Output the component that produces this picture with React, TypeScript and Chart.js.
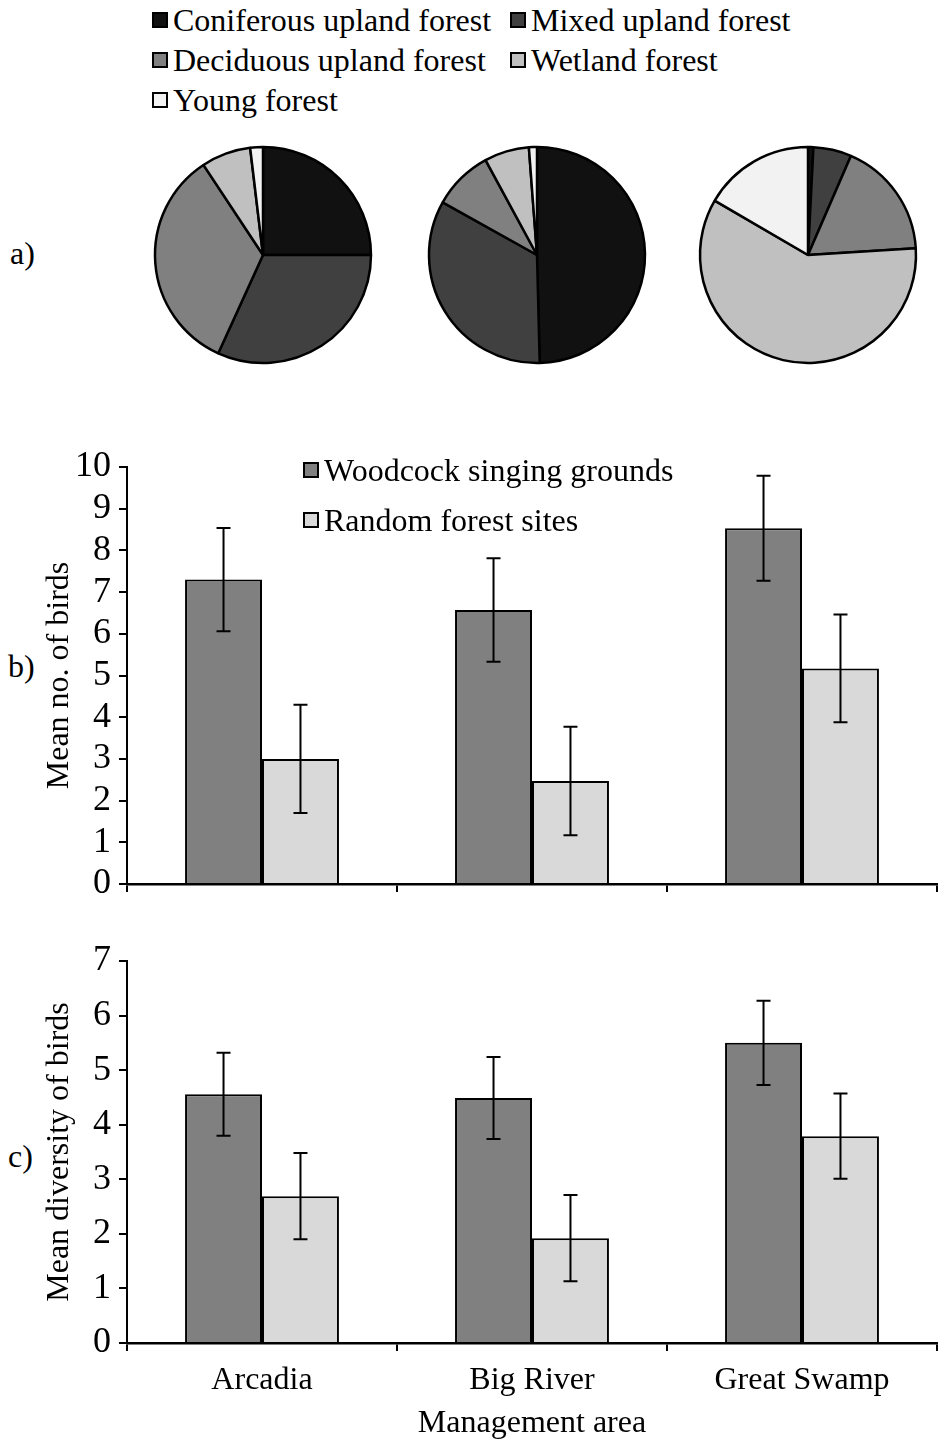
import React, { useEffect, useRef } from "react";
import { Chart, registerables } from "chart.js";

Chart.register(...registerables);

const FONT_FAMILY = "'Liberation Serif', 'Times New Roman', serif";

// Forest cover composition (percent) for each management area
const coverTypes = [
  "Coniferous upland forest",
  "Mixed upland forest",
  "Deciduous upland forest",
  "Wetland forest",
  "Young forest",
];
const coverColors = ["#111111", "#404040", "#808080", "#c0c0c0", "#f2f2f2"];
const arcadiaCover = [25.0, 31.8, 33.9, 7.4, 1.9];
const bigRiverCover = [49.6, 33.5, 9.0, 6.7, 1.2];
const greatSwampCover = [0.8, 5.7, 17.5, 59.4, 16.6];

// Bar panels
const areas = ["Arcadia", "Big River", "Great Swamp"];
const siteTypes = ["Woodcock singing grounds", "Random forest sites"];
const siteColors = ["#808080", "#d9d9d9"];

const woodcockBirds = [7.3, 6.57, 8.53];
const woodcockBirdsErr = [1.24, 1.24, 1.26];
const randomBirds = [3.0, 2.47, 5.17];
const randomBirdsErr = [1.3, 1.3, 1.29];

const woodcockDiversity = [4.56, 4.49, 5.5];
const woodcockDiversityErr = [0.76, 0.75, 0.77];
const randomDiversity = [2.69, 1.92, 3.79];
const randomDiversityErr = [0.79, 0.79, 0.78];

const birdsAxisMax = 10;
const diversityAxisMax = 7;

const font = { family: FONT_FAMILY, size: 32 };
const tickFont = { family: FONT_FAMILY, size: 36 };

// Draws symmetric error bars on top of every bar
const errorBarPlugin = {
  id: "errorBars",
  afterDatasetsDraw(chart: any) {
    const ctx = chart.ctx;
    const yScale = chart.scales.y;
    ctx.save();
    ctx.strokeStyle = "#000";
    ctx.lineWidth = 2;
    chart.data.datasets.forEach((ds: any, i: number) => {
      const meta = chart.getDatasetMeta(i);
      meta.data.forEach((bar: any, j: number) => {
        const v = ds.data[j];
        const e = ds.errors[j];
        const yTop = yScale.getPixelForValue(v + e);
        const yBot = yScale.getPixelForValue(v - e);
        const x = bar.x;
        ctx.beginPath();
        ctx.moveTo(x, yTop);
        ctx.lineTo(x, yBot);
        ctx.moveTo(x - 7, yTop);
        ctx.lineTo(x + 7, yTop);
        ctx.moveTo(x - 7, yBot);
        ctx.lineTo(x + 7, yBot);
        ctx.stroke();
      });
    });
    ctx.restore();
  },
};

function PieChart({ values, cx, cy }: { values: number[]; cx: number; cy: number }) {
  const ref = useRef<HTMLCanvasElement>(null);
  useEffect(() => {
    const chart = new Chart(ref.current as HTMLCanvasElement, {
      type: "pie",
      data: {
        labels: coverTypes,
        datasets: [
          {
            data: values,
            backgroundColor: coverColors,
            borderColor: "#000",
            borderWidth: 2.5,
            radius: 108,
          } as any,
        ],
      },
      options: {
        responsive: false,
        animation: false,
        devicePixelRatio: 1,
        plugins: { legend: { display: false }, tooltip: { enabled: false } },
      },
    });
    return () => chart.destroy();
  }, [values]);
  return (
    <canvas
      ref={ref}
      width={240}
      height={240}
      style={{ position: "absolute", left: cx - 120, top: cy - 120, width: 240, height: 240 }}
    />
  );
}

type BarPanelProps = {
  top: number;
  height: number;
  padTop: number;
  axisHeight: number;
  woodcock: number[];
  woodcockErr: number[];
  random: number[];
  randomErr: number[];
  yMax: number;
  yTitle: string;
  showAreas: boolean;
};

function BarPanel(p: BarPanelProps) {
  const ref = useRef<HTMLCanvasElement>(null);
  useEffect(() => {
    const chart = new Chart(ref.current as HTMLCanvasElement, {
      type: "bar",
      data: {
        labels: areas,
        datasets: [
          {
            label: siteTypes[0],
            data: p.woodcock,
            errors: p.woodcockErr,
            backgroundColor: siteColors[0],
            borderColor: "#000",
            borderWidth: 2,
            categoryPercentage: 0.57,
            barPercentage: 1,
          } as any,
          {
            label: siteTypes[1],
            data: p.random,
            errors: p.randomErr,
            backgroundColor: siteColors[1],
            borderColor: "#000",
            borderWidth: 2,
            categoryPercentage: 0.57,
            barPercentage: 1,
          } as any,
        ],
      },
      options: {
        responsive: false,
        animation: false,
        devicePixelRatio: 1,
        layout: { padding: { top: p.padTop, right: 1, left: 0, bottom: 0 } },
        plugins: { legend: { display: false }, tooltip: { enabled: false } },
        scales: {
          x: {
            grid: {
              offset: true,
              drawOnChartArea: false,
              color: "#000",
              lineWidth: 2,
              tickLength: 8,
            },
            border: { color: "#000", width: 2.5 },
            ticks: { display: p.showAreas, font, color: "#000", padding: 10, maxRotation: 0 },
            title: {
              display: p.showAreas,
              text: "Management area",
              font,
              color: "#000",
              padding: { top: 0, bottom: 4 },
            },
            afterFit: (s: any) => {
              s.height = p.axisHeight;
            },
          },
          y: {
            min: 0,
            max: p.yMax,
            ticks: { stepSize: 1, autoSkip: false, font: tickFont, color: "#000", padding: 8 },
            grid: { drawOnChartArea: false, color: "#000", lineWidth: 2, tickLength: 8 },
            border: { color: "#000", width: 2 },
            title: {
              display: true,
              text: p.yTitle,
              font,
              color: "#000",
              padding: { top: 10, bottom: 0 },
            },
            afterFit: (s: any) => {
              s.width = 97;
            },
          },
        },
      } as any,
      plugins: [errorBarPlugin],
    });
    return () => chart.destroy();
  }, []);
  return (
    <canvas
      ref={ref}
      width={908}
      height={p.height}
      style={{ position: "absolute", left: 30, top: p.top, width: 908, height: p.height }}
    />
  );
}

function LegendItem({
  left,
  top,
  color,
  text,
}: {
  left: number;
  top: number;
  color: string;
  text: string;
}) {
  return (
    <div
      style={{
        position: "absolute",
        left,
        top,
        height: 40,
        display: "flex",
        alignItems: "center",
        whiteSpace: "nowrap",
        fontSize: 32,
        lineHeight: "40px",
      }}
    >
      <span
        style={{
          display: "inline-block",
          boxSizing: "border-box",
          width: 16,
          height: 16,
          border: "2px solid #000",
          background: color,
          marginRight: 5,
        }}
      />
      <span>{text}</span>
    </div>
  );
}

function PanelLabel({ left, top, text }: { left: number; top: number; text: string }) {
  return (
    <div style={{ position: "absolute", left, top, fontSize: 32, lineHeight: "40px" }}>{text}</div>
  );
}

export default function App() {
  return (
    <div
      style={{
        position: "absolute",
        left: 0,
        top: 0,
        width: 938,
        height: 1447,
        background: "#fff",
        color: "#000",
        fontFamily: FONT_FAMILY,
        overflow: "hidden",
      }}
    >
      {/* a) forest cover legend */}
      <LegendItem left={152} top={0} color={coverColors[0]} text={coverTypes[0]} />
      <LegendItem left={510} top={0} color={coverColors[1]} text={coverTypes[1]} />
      <LegendItem left={152} top={40} color={coverColors[2]} text={coverTypes[2]} />
      <LegendItem left={510} top={40} color={coverColors[3]} text={coverTypes[3]} />
      <LegendItem left={152} top={80} color={coverColors[4]} text={coverTypes[4]} />

      <PanelLabel left={10} top={233} text="a)" />
      <PieChart values={arcadiaCover} cx={263} cy={255} />
      <PieChart values={bigRiverCover} cx={537} cy={255} />
      <PieChart values={greatSwampCover} cx={808} cy={255} />

      {/* b) mean number of birds */}
      <PanelLabel left={8} top={646} text="b)" />
      <BarPanel
        top={437}
        height={478}
        padTop={30}
        axisHeight={31}
        woodcock={woodcockBirds}
        woodcockErr={woodcockBirdsErr}
        random={randomBirds}
        randomErr={randomBirdsErr}
        yMax={birdsAxisMax}
        yTitle="Mean no. of birds"
        showAreas={false}
      />
      <LegendItem left={303} top={450} color={siteColors[0]} text={siteTypes[0]} />
      <LegendItem left={303} top={500} color={siteColors[1]} text={siteTypes[1]} />

      {/* c) mean diversity of birds */}
      <PanelLabel left={8} top={1136} text="c)" />
      <BarPanel
        top={931}
        height={516}
        padTop={30}
        axisHeight={104}
        woodcock={woodcockDiversity}
        woodcockErr={woodcockDiversityErr}
        random={randomDiversity}
        randomErr={randomDiversityErr}
        yMax={diversityAxisMax}
        yTitle="Mean diversity of birds"
        showAreas={true}
      />
    </div>
  );
}
